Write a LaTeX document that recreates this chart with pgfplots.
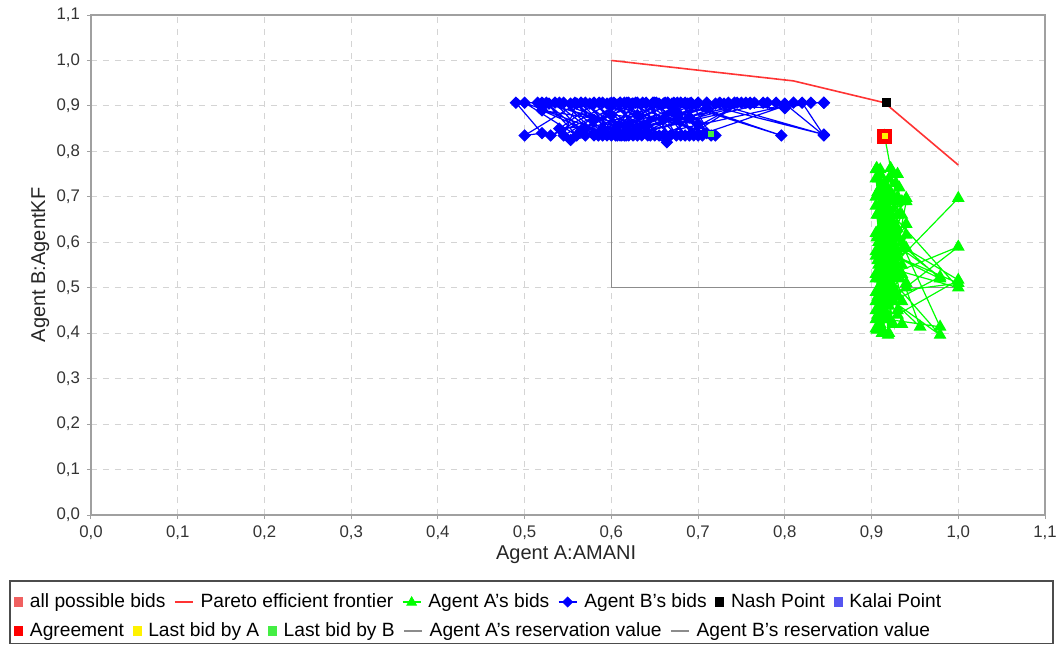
\documentclass[border=0pt]{standalone}
\usepackage{fontspec}
\setmainfont{Liberation Sans}
\usepackage{pgfplots}
\pgfplotsset{compat=1.18}
\definecolor{paretored}{HTML}{FF3333}
\definecolor{allbids}{HTML}{F06060}
\definecolor{agreen}{HTML}{00FF00}
\definecolor{bblue}{HTML}{0000FF}
\definecolor{kalai}{HTML}{5555F0}
\definecolor{lastb}{HTML}{44EE44}
\definecolor{resgray}{HTML}{8C8C8C}
\definecolor{gridgray}{HTML}{D4D4D4}
\definecolor{framegray}{HTML}{A0A0A0}
\begin{document}
\begin{tikzpicture}[x=1pt,y=1pt]
\useasboundingbox (0,0) rectangle (528.5,322);
\begin{axis}[
  at={(45.5pt,64.5pt)}, anchor=south west,
  scale only axis, width=477pt, height=250pt,
  xmin=0, xmax=1.1, ymin=0, ymax=1.1,
  xtick={0,0.1,0.2,0.3,0.4,0.5,0.6,0.7,0.8,0.9,1.0,1.1},
  ytick={0,0.1,0.2,0.3,0.4,0.5,0.6,0.7,0.8,0.9,1.0,1.1},
  xtick pos=left, ytick pos=left,
  tick align=outside, major tick length=2pt,
  tick style={framegray, line width=0.5pt},
  axis line style={framegray, line width=0.6pt},
  grid=major, grid style={gridgray, dashed, line width=0.5pt},
  /pgf/number format/.cd, fixed, fixed zerofill, precision=1, use comma, assume math mode=true,
  /pgfplots/.cd,
  ticklabel style={font=\fontsize{8.4}{9}\selectfont, text=black!80},
  xlabel={Agent A:AMANI}, ylabel={Agent B:AgentKF},
  label style={font=\fontsize{10}{12}\selectfont, text=black!85},
  xlabel style={at={(axis description cs:0.498,-0.08)}, anchor=center},
  ylabel style={at={(axis description cs:-0.053,0.5)}, anchor=center},
  legend columns=-1,
  legend style={draw=none, fill=none, inner sep=0pt, outer sep=0pt,
    at={(axis description cs:-0.0805,-0.174)}, anchor=west,
    font=\fontsize{9.6}{11}\selectfont,
    /tikz/every even column/.append style={column sep=2.3pt},
    /tikz/every odd column/.append style={column sep=1.5pt}},
]
% legend row 1
\addlegendimage{legend image code/.code={\fill[allbids] (0pt,-2.2pt) rectangle (4pt,2.2pt);}}
\addlegendentry{all possible bids}
\addlegendimage{legend image code/.code={\draw[paretored, line width=0.7pt] (0pt,0pt) -- (9pt,0pt);}}
\addlegendentry{Pareto efficient frontier}
\addlegendimage{legend image code/.code={\draw[agreen, line width=0.7pt] (0pt,0pt) -- (9pt,0pt); \fill[agreen] (4.5pt,2.6pt) -- (2.1pt,-1.6pt) -- (6.9pt,-1.6pt) -- cycle;}}
\addlegendentry{Agent A's bids}
\addlegendimage{legend image code/.code={\draw[bblue, line width=0.7pt] (0pt,0pt) -- (9pt,0pt); \fill[bblue] (4.5pt,2.5pt) -- (7pt,0pt) -- (4.5pt,-2.5pt) -- (2pt,0pt) -- cycle;}}
\addlegendentry{Agent B's bids}
\addlegendimage{legend image code/.code={\fill[black] (0pt,-2.2pt) rectangle (4pt,2.2pt);}}
\addlegendentry{Nash Point}
\addlegendimage{legend image code/.code={\fill[kalai] (0pt,-2.2pt) rectangle (4pt,2.2pt);}}
\addlegendentry{Kalai Point}

% reservation values
\addplot[resgray, line width=0.7pt, forget plot] coordinates {(0.6,1.0) (0.6,0.5)};
\addplot[resgray, line width=0.7pt, forget plot] coordinates {(0.6,0.5) (1.0,0.5)};
% pareto
\addplot[paretored, line width=0.8pt, forget plot] coordinates {(0.6,1.0) (0.81,0.955) (0.915,0.907) (1.0,0.77)};
% Agent A's bids
\addplot[agreen, line width=0.6pt, mark=triangle*, mark size=3.1pt, mark options={solid}, forget plot] coordinates {
(1.0,0.697) (0.91,0.52) (1.0,0.59) (0.905,0.45) (0.979,0.524) (0.91,0.62) (1.0,0.517) (0.92,0.43)
(0.979,0.414) (0.915,0.68) (1.0,0.50) (0.908,0.55) (0.979,0.396) (0.925,0.47) (0.956,0.414) (0.912,0.64)
(0.94,0.697) (0.905,0.58) (0.93,0.52) (0.918,0.71) (0.905,0.49) (0.94,0.616) (0.91,0.42) (0.922,0.60)
(0.906,0.407) (0.93,0.66) (0.919,0.396) (0.91,0.72) (0.94,0.587) (0.915,0.50) (0.925,0.69) (0.905,0.53)
(0.935,0.55) (0.912,0.46) (0.92,0.74) (0.906,0.61) (0.93,0.48) (0.91,0.67) (0.925,0.56) (0.905,0.70)
(0.918,0.44) (0.94,0.51) (0.91,0.59) (0.922,0.65) (0.907,0.48) (0.93,0.61) (0.915,0.73) (0.905,0.52)
(0.925,0.42) (0.912,0.57) (0.935,0.66) (0.908,0.74) (0.92,0.54) (0.93,0.45) (0.91,0.63) (0.906,0.763)
(0.905,0.76) (0.93,0.44) (0.91,0.75) (0.935,0.60) (0.905,0.43) (0.92,0.70) (0.908,0.45) (0.928,0.73)
(0.912,0.41) (0.93,0.58) (0.906,0.66) (0.918,0.47) (0.935,0.69) (0.91,0.54) (0.925,0.75) (0.905,0.62)
(0.92,0.40) (0.93,0.63) (0.912,0.51) (0.922,0.71) (0.907,0.44) (0.935,0.53) (0.915,0.65) (0.905,0.57)
(0.928,0.49) (0.91,0.76) (0.92,0.46) (0.932,0.72) (0.908,0.60) (0.918,0.52) (0.905,0.68) (0.93,0.57)
(0.915,0.43) (0.925,0.61) (0.907,0.71) (0.935,0.47) (0.912,0.55) (0.92,0.67) (0.905,0.47) (0.93,0.75)
(0.91,0.58) (0.925,0.50) (0.918,0.69) (0.906,0.53) (0.94,0.64) (0.912,0.40) (0.922,0.56) (0.908,0.66)
(0.935,0.42) (0.915,0.60) (0.905,0.74) (0.928,0.54) (0.91,0.45) (0.92,0.62) (0.979,0.52) (0.915,0.58)
(1.0,0.51) (0.92,0.49) (0.94,0.69) (0.912,0.63) (0.922,0.58) (0.94,0.50) (0.912,0.69) (0.905,0.41)
(0.918,0.62) (0.93,0.70) (0.91,0.47) (0.925,0.64) (0.907,0.56) (0.922,0.763) (0.915,0.834)};
% Agent B's bids
\addplot[bblue, line width=0.6pt, mark=diamond*, mark size=2.7pt, mark options={solid, xscale=1.35}, forget plot] coordinates {
(0.845,0.907) (0.82,0.907) (0.845,0.835) (0.80,0.905) (0.78,0.907) (0.62,0.835) (0.76,0.905) (0.742,0.907)
(0.72,0.905) (0.845,0.837) (0.70,0.907) (0.688,0.905) (0.796,0.835) (0.676,0.907) (0.66,0.905) (0.648,0.907)
(0.70,0.838) (0.636,0.907) (0.624,0.905) (0.61,0.907) (0.65,0.835) (0.598,0.905) (0.586,0.907) (0.575,0.905)
(0.60,0.837) (0.565,0.907) (0.553,0.905) (0.54,0.907) (0.664,0.82) (0.528,0.905) (0.515,0.907) (0.49,0.907)
(0.52,0.84) (0.50,0.835) (0.56,0.905) (0.545,0.835) (0.61,0.907) (0.553,0.825) (0.58,0.835) (0.67,0.905)
(0.59,0.835) (0.63,0.907) (0.605,0.835) (0.69,0.905) (0.615,0.835) (0.71,0.907) (0.63,0.835) (0.64,0.84)
(0.73,0.905) (0.66,0.835) (0.68,0.835) (0.75,0.907) (0.69,0.835) (0.70,0.835) (0.80,0.90) (0.645,0.835)
(0.62,0.86) (0.60,0.88) (0.66,0.87) (0.70,0.86) (0.64,0.905) (0.58,0.87) (0.57,0.85) (0.625,0.905)
(0.605,0.845) (0.675,0.885) (0.655,0.905) (0.72,0.835) (0.595,0.905) (0.612,0.835) (0.63,0.88) (0.58,0.905)
(0.54,0.85) (0.69,0.875) (0.71,0.84) (0.615,0.907) (0.52,0.907) (0.63,0.85) (0.685,0.907) (0.60,0.835)
(0.50,0.907) (0.56,0.835) (0.525,0.907) (0.57,0.835) (0.535,0.907) (0.585,0.835) (0.545,0.907) (0.595,0.835)
(0.558,0.907) (0.607,0.835) (0.57,0.907) (0.617,0.835) (0.58,0.907) (0.625,0.835) (0.59,0.907) (0.635,0.835)
(0.603,0.907) (0.642,0.835) (0.618,0.907) (0.655,0.835) (0.628,0.907) (0.668,0.835) (0.64,0.907) (0.675,0.835)
(0.652,0.907) (0.685,0.835) (0.662,0.907) (0.695,0.835) (0.672,0.907) (0.705,0.835) (0.68,0.907) (0.715,0.835)
(0.692,0.907) (0.725,0.907) (0.735,0.907) (0.745,0.907) (0.755,0.907) (0.765,0.907) (0.775,0.907) (0.79,0.907)
(0.81,0.907) (0.83,0.907) (0.80,0.895) (0.60,0.907) (0.53,0.835) (0.62,0.907) (0.565,0.845) (0.665,0.907)
(0.59,0.85) (0.71,0.895) (0.62,0.845) (0.76,0.907) (0.64,0.855) (0.52,0.89) (0.58,0.84) (0.70,0.907)
(0.61,0.835) (0.65,0.907) (0.845,0.907)};
% Nash
\addplot[only marks, mark=square*, mark size=2pt, mark options={black}, forget plot] coordinates {(0.917,0.907)};
% Agreement
\addplot[only marks, mark=square*, mark size=3.5pt, mark options={red, draw=red}, forget plot] coordinates {(0.915,0.834)};
% Last bid by A
\addplot[only marks, mark=square*, mark size=1.2pt, mark options={yellow, draw=yellow}, forget plot] coordinates {(0.915,0.834)};
% Last bid by B
\addplot[only marks, mark=square*, mark size=1.4pt, mark options={lastb, draw=lastb}, forget plot] coordinates {(0.715,0.838)};
\end{axis}
% second row of the legend
\begin{axis}[
  at={(45.5pt,64.5pt)}, anchor=south west,
  scale only axis, width=477pt, height=250pt,
  xmin=0, xmax=1.1, ymin=0, ymax=1.1, hide axis,
  legend columns=-1,
  legend style={draw=none, fill=none, inner sep=0pt, outer sep=0pt,
    at={(axis description cs:-0.0805,-0.232)}, anchor=west,
    font=\fontsize{9.6}{11}\selectfont,
    /tikz/every even column/.append style={column sep=2.3pt},
    /tikz/every odd column/.append style={column sep=1.5pt}},
]
\addlegendimage{legend image code/.code={\fill[red] (0pt,-2.2pt) rectangle (4pt,2.2pt);}}
\addlegendentry{Agreement}
\addlegendimage{legend image code/.code={\fill[yellow] (0pt,-2.2pt) rectangle (4pt,2.2pt);}}
\addlegendentry{Last bid by A}
\addlegendimage{legend image code/.code={\fill[lastb] (0pt,-2.2pt) rectangle (4pt,2.2pt);}}
\addlegendentry{Last bid by B}
\addlegendimage{legend image code/.code={\draw[resgray, line width=0.7pt] (0pt,0pt) -- (9pt,0pt);}}
\addlegendentry{Agent A's reservation value}
\addlegendimage{legend image code/.code={\draw[resgray, line width=0.7pt] (0pt,0pt) -- (9pt,0pt);}}
\addlegendentry{Agent B's reservation value}
\end{axis}
\draw[black!70, line width=0.6pt] (5,0.3) rectangle (526.5,31.5);
\end{tikzpicture}
\end{document}
